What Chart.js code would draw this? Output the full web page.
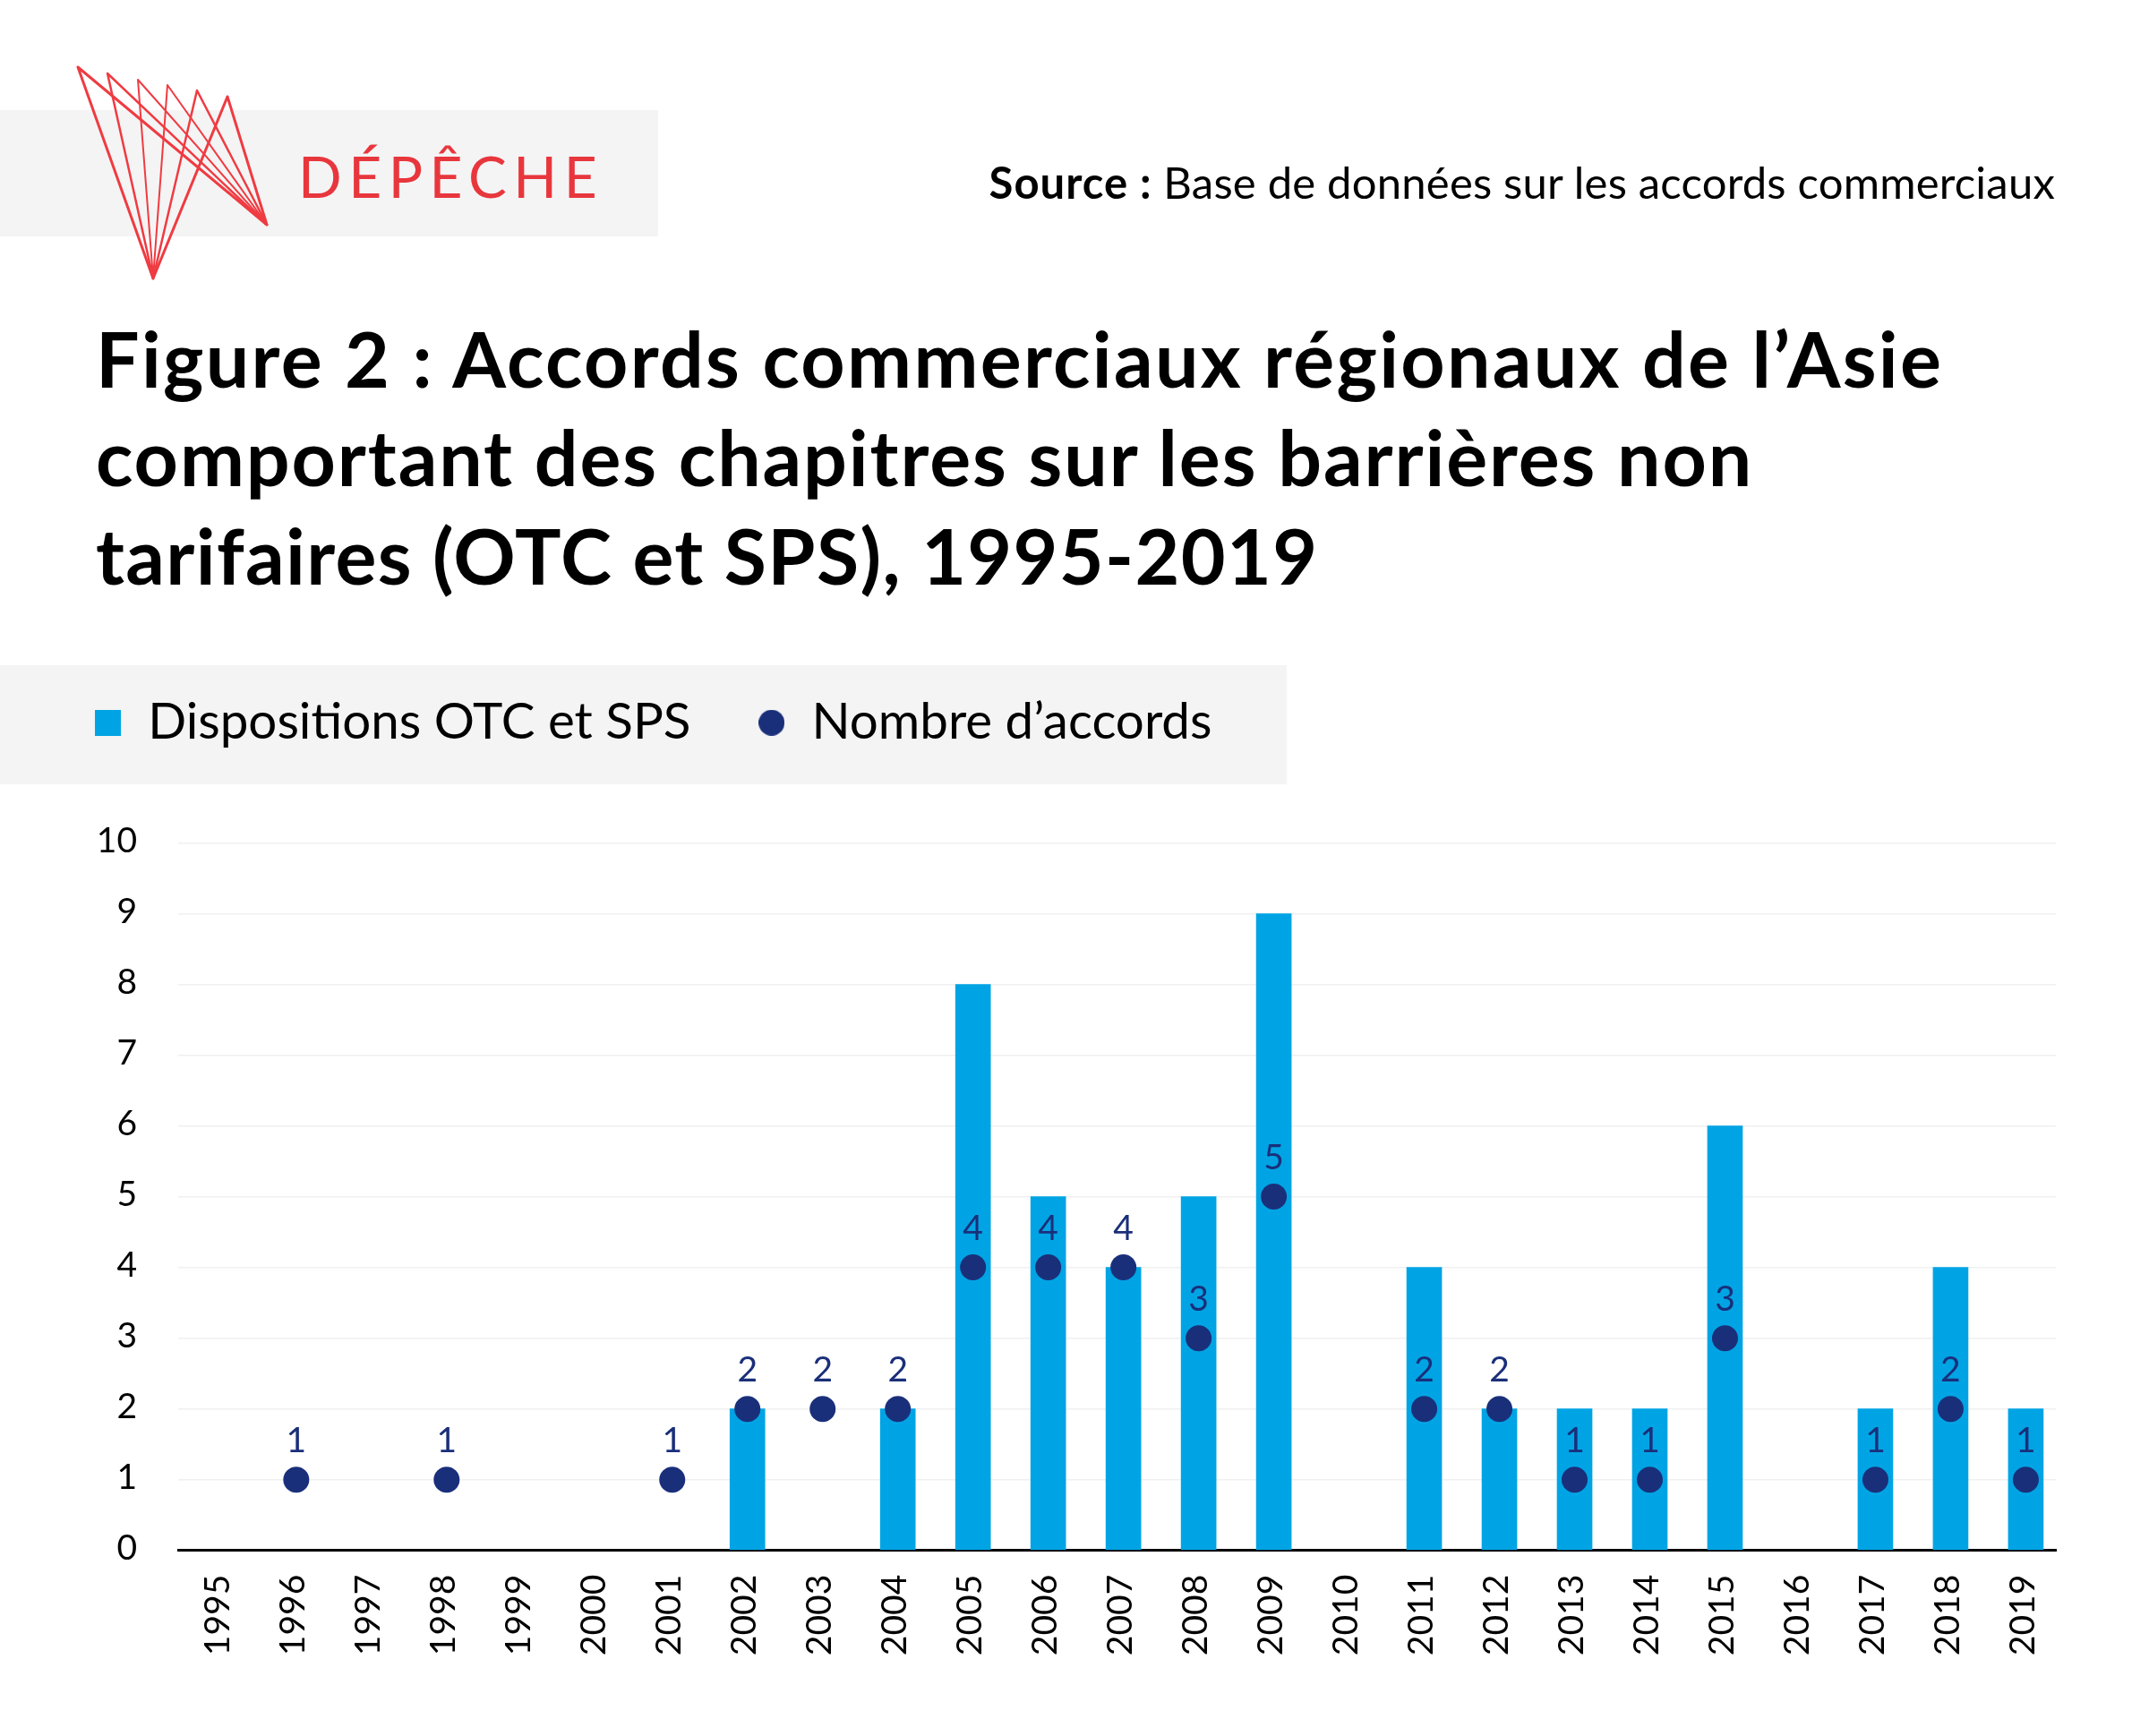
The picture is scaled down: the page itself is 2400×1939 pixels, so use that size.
<!DOCTYPE html>
<html lang="fr">
<head>
<meta charset="utf-8">
<title>Figure 2</title>
<script src="https://cdn.jsdelivr.net/npm/chart.js@4/dist/chart.umd.min.js"></script>
<style>
  html, body { margin: 0; background: #fff; }
  #page { position: relative; width: 2400px; height: 1939px; overflow: hidden; font-family: Lato, sans-serif; color: #000; }
  .band { position: absolute; left: 0; background: #f4f4f4; }
  #brand { position: absolute; left: 333px; top: 153px; font-size: 64px; line-height: 88px; letter-spacing: 7.5px; color: #e8363d; }
  #source { position: absolute; right: 105px; top: 175px; font-size: 49px; line-height: 56px; letter-spacing: 0.2px; white-space: nowrap; }
  #source b { letter-spacing: 1px; }
  #title { position: absolute; left: 107px; top: 345px; font-size: 86px; line-height: 110px; font-weight: 700; letter-spacing: 2.3px; white-space: nowrap; }
  #logo { position: absolute; left: 0; top: 0; }
  #myChart { position: absolute; left: 0; top: 0; }
</style>
</head>
<body>
<div id="page">
  <div class="band" style="top:123px;width:735px;height:141px"></div>
  <div class="band" style="top:743px;width:1437px;height:133px"></div>
  <svg id="logo" width="320" height="320" fill="none" stroke="#ef3b42" stroke-linecap="round">
    <path stroke-width="3" d="M87 75L171 311M87 75L298 251M254 108L171 311M254 108L298 251"/>
    <path stroke-width="2.5" d="M120 82L171 311M120 82L298 251M220 101L171 311M220 101L298 251"/>
    <path stroke-width="2" d="M154 89L171 311M154 89L298 251M187 95L171 311M187 95L298 251"/>
  </svg>
  <div id="brand">DÉPÊCHE</div>
  <div id="source"><b>Source :</b> Base de données sur les accords commerciaux</div>
  <div id="title">Figure 2 : Accords commerciaux régionaux de l’Asie<br><span style="letter-spacing:1.9px">comportant des chapitres sur les barrières non</span><br><span style="letter-spacing:1.35px">tarifaires (OTC et SPS), 1995-2019</span></div>
  <canvas id="myChart" width="2400" height="1939"></canvas>
</div>
<script>
var years = [1995,1996,1997,1998,1999,2000,2001,2002,2003,2004,2005,2006,2007,2008,2009,2010,2011,2012,2013,2014,2015,2016,2017,2018,2019];
var dispositions = [null,null,null,null,null,null,null,2,null,2,8,5,4,5,9,null,4,2,2,2,6,null,2,4,2];
var accords = [null,1,null,1,null,null,1,2,2,2,4,4,4,3,5,null,2,2,1,1,3,null,1,2,1];
var yTicks = [0,1,2,3,4,5,6,7,8,9,10];

var BLUE = '#00a4e4';
var NAVY = '#1a2f7a';

// little canvases for the legend, the built in circle comes out too big
function marker(shape, color) {
  var c = document.createElement('canvas');
  c.width = 29; c.height = 29;
  var g = c.getContext('2d');
  g.fillStyle = color;
  if (shape == 'circle') {
    g.beginPath(); g.arc(14.5, 14.5, 14.5, 0, Math.PI * 2); g.fill();
  } else {
    g.fillRect(0, 0, 29, 29);
  }
  return c;
}

// number above each dot
var dotLabels = {
  id: 'dotLabels',
  afterDatasetsDraw: function(chart) {
    var ctx = chart.ctx;
    var meta = chart.getDatasetMeta(0);
    ctx.save();
    ctx.fillStyle = NAVY;
    ctx.font = '39px Lato';
    ctx.textAlign = 'center';
    ctx.textBaseline = 'alphabetic';
    meta.data.forEach(function(pt, i) {
      if (accords[i] !== null) ctx.fillText(accords[i], pt.x, pt.y - 31);
    });
    ctx.restore();
  }
};

// extra room between the legend and the plot
var legendRoom = {
  id: 'legendRoom',
  beforeInit: function(chart) {
    var fit = chart.legend.fit;
    chart.legend.fit = function() {
      fit.call(chart.legend);
      this.height += 96;
    };
  }
};

var myChart = new Chart(document.getElementById('myChart'), {
  data: {
    datasets: [
      {
        type: 'line',
        label: 'Nombre d’accords',
        data: years.map(function(y, i) { return {x: y, y: accords[i]}; }),
        showLine: false,
        pointRadius: 14.5,
        pointHoverRadius: 14.5,
        pointBorderWidth: 0,
        backgroundColor: NAVY,
        borderColor: NAVY
      },
      {
        type: 'bar',
        label: 'Dispositions OTC et SPS',
        data: years.map(function(y, i) { return {x: y, y: dispositions[i]}; }),
        barThickness: 39,
        backgroundColor: BLUE
      }
    ]
  },
  plugins: [dotLabels, legendRoom],
  options: {
    responsive: false,
    devicePixelRatio: 1,
    animation: false,
    layout: { padding: { top: 705.25, left: 30.25, right: 104, bottom: 0 } },
    plugins: {
      tooltip: { enabled: false },
      legend: {
        position: 'top',
        align: 'start',
        labels: {
          usePointStyle: true,
          boxWidth: 33,
          boxHeight: 29,
          padding: 73.75,
          color: '#000',
          font: { family: 'Lato', size: 56.5 },
          sort: function(a, b) { return b.datasetIndex - a.datasetIndex; },
          generateLabels: function(chart) {
            var items = Chart.defaults.plugins.legend.labels.generateLabels(chart);
            items.forEach(function(it) {
              it.pointStyle = it.datasetIndex == 0 ? marker('circle', NAVY) : marker('rect', BLUE);
            });
            return items;
          }
        }
      }
    },
    scales: {
      x: {
        type: 'linear',
        offset: false,
        min: 1994.43,
        max: 2019.4,
        grid: { display: false, offset: false },
        border: { color: '#000', width: 3 },
        afterBuildTicks: function(scale) {
          scale.ticks = years.map(function(y) { return {value: y}; });
        },
        afterFit: function(scale) { scale.height = 207.3; },
        ticks: {
          autoSkip: false,
          minRotation: 90,
          maxRotation: 90,
          padding: 19,
          labelOffset: -3,
          color: '#000',
          font: { family: 'Lato', size: 39 },
          callback: function(v) { return String(v); }
        }
      },
      y: {
        min: yTicks[0],
        max: yTicks[yTicks.length - 1],
        grid: { color: '#f0f0f0', lineWidth: 1.5, drawTicks: false },
        border: { display: false },
        afterFit: function(scale) { scale.width = 168.75; },
        ticks: {
          stepSize: 1,
          padding: 46,
          labelOffset: -2,
          color: '#000',
          font: { family: 'Lato', size: 39 }
        }
      }
    }
  }
});
</script>
</body>
</html>
